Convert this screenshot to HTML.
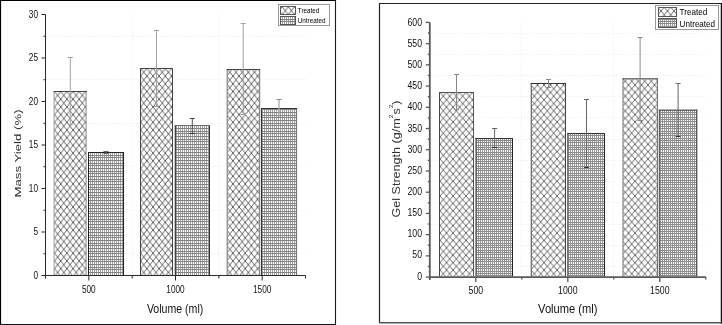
<!DOCTYPE html>
<html><head><meta charset="utf-8"><style>
html,body{margin:0;padding:0;background:#fff;width:722px;height:325px;overflow:hidden;}
svg{display:block;font-family:"Liberation Sans", sans-serif;filter:grayscale(1);}
</style></head><body>
<svg width="722" height="325" viewBox="0 0 722 325" font-family='"Liberation Sans", sans-serif'><defs><pattern id="xh" patternUnits="userSpaceOnUse" width="6.15" height="7.7" patternTransform="translate(54.6 91.5)"><rect width="6.15" height="7.7" fill="#fff"/><path d="M-6.15 -7.7L12.3 15.4M12.3 -7.7L-6.15 15.4" stroke="#2a2a2a" stroke-width="0.75" fill="none"/></pattern><pattern id="xhR" patternUnits="userSpaceOnUse" width="6.5" height="7.4" patternTransform="translate(440 92.4)"><rect width="6.5" height="7.4" fill="#fff"/><path d="M-6.5 -7.4L13 14.8M13 -7.4L-6.5 14.8" stroke="#2a2a2a" stroke-width="0.7" fill="none"/></pattern><pattern id="gr" patternUnits="userSpaceOnUse" width="2" height="8" x="0" y="0"><rect width="2" height="8" fill="#fff"/><rect x="0" y="0" width="1" height="8" fill="#a0a0a0"/><rect x="0" y="0" width="2" height="1" fill="#828282"/><rect x="0" y="3" width="2" height="1" fill="#828282"/><rect x="0" y="5" width="2" height="1" fill="#828282"/></pattern><pattern id="grR" patternUnits="userSpaceOnUse" width="2" height="7" x="0" y="0"><rect width="2" height="7" fill="#fff"/><rect x="0" y="0" width="1" height="7" fill="#999"/><rect x="0" y="0" width="2" height="1" fill="#8a8a8a"/><rect x="0" y="2" width="2" height="1" fill="#8a8a8a"/><rect x="0" y="5" width="2" height="1" fill="#8a8a8a"/></pattern></defs><rect width="722" height="325" fill="#fff"/><line x1="46.5" y1="253.5" x2="305.5" y2="253.5" stroke="#ebebeb" stroke-width="1" stroke-dasharray="1 2"/><line x1="46.5" y1="210.5" x2="305.5" y2="210.5" stroke="#ebebeb" stroke-width="1" stroke-dasharray="1 2"/><line x1="46.5" y1="166.5" x2="305.5" y2="166.5" stroke="#ebebeb" stroke-width="1" stroke-dasharray="1 2"/><line x1="46.5" y1="123.5" x2="305.5" y2="123.5" stroke="#ebebeb" stroke-width="1" stroke-dasharray="1 2"/><line x1="46.5" y1="79.5" x2="305.5" y2="79.5" stroke="#ebebeb" stroke-width="1" stroke-dasharray="1 2"/><line x1="46.5" y1="36.5" x2="305.5" y2="36.5" stroke="#ebebeb" stroke-width="1" stroke-dasharray="1 2"/><line x1="132.5" y1="14.5" x2="132.5" y2="275.5" stroke="#ebebeb" stroke-width="1" stroke-dasharray="1 2"/><line x1="218.5" y1="14.5" x2="218.5" y2="275.5" stroke="#ebebeb" stroke-width="1" stroke-dasharray="1 2"/><rect x="54.1" y="91.5" width="32" height="183.5" fill="url(#xh)"/><line x1="54.1" y1="91" x2="54.1" y2="275" stroke="#aaa" stroke-width="1.2" /><line x1="86.1" y1="91" x2="86.1" y2="275" stroke="#999" stroke-width="1.2" /><line x1="53.5" y1="91.5" x2="86.7" y2="91.5" stroke="#444" stroke-width="1" /><rect x="88.5" y="152.5" width="35" height="122.5" fill="url(#gr)"/><line x1="88.5" y1="152" x2="88.5" y2="275" stroke="#222" stroke-width="1" /><line x1="123.5" y1="152" x2="123.5" y2="275" stroke="#222" stroke-width="1" /><line x1="88" y1="152.5" x2="124" y2="152.5" stroke="#222" stroke-width="1" /><rect x="140.5" y="68.5" width="32" height="206.5" fill="url(#xh)"/><line x1="140.5" y1="68" x2="140.5" y2="275" stroke="#444" stroke-width="1" /><line x1="172.5" y1="68" x2="172.5" y2="275" stroke="#444" stroke-width="1" /><line x1="140" y1="68.5" x2="173" y2="68.5" stroke="#444" stroke-width="1" /><rect x="175.3" y="125.5" width="34.2" height="149.5" fill="url(#gr)"/><line x1="175.3" y1="125" x2="175.3" y2="275" stroke="#333" stroke-width="1.2" /><line x1="209.5" y1="125" x2="209.5" y2="275" stroke="#333" stroke-width="1" /><line x1="174.7" y1="125.5" x2="210" y2="125.5" stroke="#666" stroke-width="1" /><rect x="227.2" y="69.5" width="32.4" height="205.5" fill="url(#xh)"/><line x1="227.2" y1="69" x2="227.2" y2="275" stroke="#888" stroke-width="1.2" /><line x1="259.6" y1="69" x2="259.6" y2="275" stroke="#888" stroke-width="1.2" /><line x1="226.6" y1="69.5" x2="260.2" y2="69.5" stroke="#444" stroke-width="1" /><rect x="261.5" y="108.5" width="35" height="166.5" fill="url(#gr)"/><line x1="261.5" y1="108" x2="261.5" y2="275" stroke="#333" stroke-width="1" /><line x1="296.5" y1="108" x2="296.5" y2="275" stroke="#777" stroke-width="1.2" /><line x1="261" y1="108.5" x2="297.1" y2="108.5" stroke="#333" stroke-width="1" /><line x1="70.3" y1="57.5" x2="70.3" y2="124.5" stroke="#a0a0a0" stroke-width="1" /><line x1="67.8" y1="57.5" x2="72.8" y2="57.5" stroke="#a0a0a0" stroke-width="1" /><line x1="67.8" y1="124.5" x2="72.8" y2="124.5" stroke="#a0a0a0" stroke-width="1" /><line x1="106" y1="151.5" x2="106" y2="153.5" stroke="#777" stroke-width="1" /><line x1="103.5" y1="151.5" x2="108.5" y2="151.5" stroke="#666" stroke-width="1" /><line x1="103.5" y1="153.5" x2="108.5" y2="153.5" stroke="#666" stroke-width="1" /><line x1="156.5" y1="30.5" x2="156.5" y2="106.5" stroke="#a0a0a0" stroke-width="1" /><line x1="154" y1="30.5" x2="159" y2="30.5" stroke="#a0a0a0" stroke-width="1" /><line x1="154" y1="106.5" x2="159" y2="106.5" stroke="#a0a0a0" stroke-width="1" /><line x1="192.3" y1="118.5" x2="192.3" y2="133.5" stroke="#555" stroke-width="1" /><line x1="189.8" y1="118.5" x2="194.8" y2="118.5" stroke="#444" stroke-width="1" /><line x1="189.8" y1="133.5" x2="194.8" y2="133.5" stroke="#333" stroke-width="1" /><line x1="243.2" y1="23.5" x2="243.2" y2="114.5" stroke="#a0a0a0" stroke-width="1" /><line x1="240.7" y1="23.5" x2="245.7" y2="23.5" stroke="#a0a0a0" stroke-width="1" /><line x1="240.7" y1="114.5" x2="245.7" y2="114.5" stroke="#a0a0a0" stroke-width="1" /><line x1="279" y1="99.5" x2="279" y2="117.5" stroke="#aaa" stroke-width="1.3" /><line x1="276.5" y1="99.5" x2="281.5" y2="99.5" stroke="#888" stroke-width="1" /><line x1="276.5" y1="117.5" x2="281.5" y2="117.5" stroke="#777" stroke-width="1" /><line x1="45.5" y1="14.5" x2="45.5" y2="278.5" stroke="#2a2a2a" stroke-width="1" /><line x1="45" y1="275.5" x2="305.5" y2="275.5" stroke="#2a2a2a" stroke-width="1" /><line x1="41.5" y1="275.5" x2="45.5" y2="275.5" stroke="#2a2a2a" stroke-width="1" /><text x="0" y="0" transform="translate(38 278.5) scale(0.75 1)" font-size="11" text-anchor="end" fill="#111">0</text><line x1="43.5" y1="253.75" x2="45.5" y2="253.75" stroke="#2a2a2a" stroke-width="1" /><line x1="41.5" y1="232" x2="45.5" y2="232" stroke="#2a2a2a" stroke-width="1" /><text x="0" y="0" transform="translate(38 235) scale(0.75 1)" font-size="11" text-anchor="end" fill="#111">5</text><line x1="43.5" y1="210.25" x2="45.5" y2="210.25" stroke="#2a2a2a" stroke-width="1" /><line x1="41.5" y1="188.5" x2="45.5" y2="188.5" stroke="#2a2a2a" stroke-width="1" /><text x="0" y="0" transform="translate(38 191.5) scale(0.75 1)" font-size="11" text-anchor="end" fill="#111">10</text><line x1="43.5" y1="166.75" x2="45.5" y2="166.75" stroke="#2a2a2a" stroke-width="1" /><line x1="41.5" y1="145" x2="45.5" y2="145" stroke="#2a2a2a" stroke-width="1" /><text x="0" y="0" transform="translate(38 148) scale(0.75 1)" font-size="11" text-anchor="end" fill="#111">15</text><line x1="43.5" y1="123.25" x2="45.5" y2="123.25" stroke="#2a2a2a" stroke-width="1" /><line x1="41.5" y1="101.5" x2="45.5" y2="101.5" stroke="#2a2a2a" stroke-width="1" /><text x="0" y="0" transform="translate(38 104.5) scale(0.75 1)" font-size="11" text-anchor="end" fill="#111">20</text><line x1="43.5" y1="79.75" x2="45.5" y2="79.75" stroke="#2a2a2a" stroke-width="1" /><line x1="41.5" y1="58" x2="45.5" y2="58" stroke="#2a2a2a" stroke-width="1" /><text x="0" y="0" transform="translate(38 61) scale(0.75 1)" font-size="11" text-anchor="end" fill="#111">25</text><line x1="43.5" y1="36.25" x2="45.5" y2="36.25" stroke="#2a2a2a" stroke-width="1" /><line x1="41.5" y1="14.5" x2="45.5" y2="14.5" stroke="#2a2a2a" stroke-width="1" /><text x="0" y="0" transform="translate(38 17.5) scale(0.75 1)" font-size="11" text-anchor="end" fill="#111">30</text><line x1="132.17" y1="275.5" x2="132.17" y2="278.5" stroke="#2a2a2a" stroke-width="1" /><line x1="218.83" y1="275.5" x2="218.83" y2="278.5" stroke="#2a2a2a" stroke-width="1" /><line x1="305.5" y1="275.5" x2="305.5" y2="278.5" stroke="#2a2a2a" stroke-width="1" /><line x1="88.83" y1="275.5" x2="88.83" y2="280.5" stroke="#2a2a2a" stroke-width="1" /><text x="0" y="0" transform="translate(88.83 293) scale(0.75 1)" font-size="11" text-anchor="middle" fill="#111">500</text><line x1="175.5" y1="275.5" x2="175.5" y2="280.5" stroke="#2a2a2a" stroke-width="1" /><text x="0" y="0" transform="translate(175.5 293) scale(0.75 1)" font-size="11" text-anchor="middle" fill="#111">1000</text><line x1="262.17" y1="275.5" x2="262.17" y2="280.5" stroke="#2a2a2a" stroke-width="1" /><text x="0" y="0" transform="translate(262.17 293) scale(0.75 1)" font-size="11" text-anchor="middle" fill="#111">1500</text><text x="0" y="0" transform="translate(175.1 312.7) scale(0.86 1)" font-size="12.3" text-anchor="middle" fill="#111">Volume (ml)</text><text x="0" y="0" transform="translate(21.1 153.5) rotate(-90) scale(1.35 1)" font-size="9.8" text-anchor="middle" fill="#333">Mass Yield (%)</text><rect x="278.5" y="4.5" width="51" height="21" fill="#fff" stroke="#999" stroke-width="1"/><rect x="280.5" y="6.5" width="15" height="8" fill="url(#xh)" stroke="#555" stroke-width="1"/><text x="0" y="0" transform="translate(297.8 12.7) scale(0.79 1)" font-size="8" text-anchor="start" fill="#000">Treated</text><rect x="280.5" y="16.5" width="15" height="8" fill="url(#gr)" stroke="#555" stroke-width="1"/><text x="0" y="0" transform="translate(297.8 23) scale(0.79 1)" font-size="8" text-anchor="start" fill="#000">Untreated</text><line x1="430.8" y1="266.5" x2="705.8" y2="266.5" stroke="#ebebeb" stroke-width="1" stroke-dasharray="1 2"/><line x1="430.8" y1="245.5" x2="705.8" y2="245.5" stroke="#ebebeb" stroke-width="1" stroke-dasharray="1 2"/><line x1="430.8" y1="224.5" x2="705.8" y2="224.5" stroke="#ebebeb" stroke-width="1" stroke-dasharray="1 2"/><line x1="430.8" y1="202.5" x2="705.8" y2="202.5" stroke="#ebebeb" stroke-width="1" stroke-dasharray="1 2"/><line x1="430.8" y1="181.5" x2="705.8" y2="181.5" stroke="#ebebeb" stroke-width="1" stroke-dasharray="1 2"/><line x1="430.8" y1="160.5" x2="705.8" y2="160.5" stroke="#ebebeb" stroke-width="1" stroke-dasharray="1 2"/><line x1="430.8" y1="139.5" x2="705.8" y2="139.5" stroke="#ebebeb" stroke-width="1" stroke-dasharray="1 2"/><line x1="430.8" y1="117.5" x2="705.8" y2="117.5" stroke="#ebebeb" stroke-width="1" stroke-dasharray="1 2"/><line x1="430.8" y1="96.5" x2="705.8" y2="96.5" stroke="#ebebeb" stroke-width="1" stroke-dasharray="1 2"/><line x1="430.8" y1="75.5" x2="705.8" y2="75.5" stroke="#ebebeb" stroke-width="1" stroke-dasharray="1 2"/><line x1="430.8" y1="54.5" x2="705.8" y2="54.5" stroke="#ebebeb" stroke-width="1" stroke-dasharray="1 2"/><line x1="430.8" y1="33.5" x2="705.8" y2="33.5" stroke="#ebebeb" stroke-width="1" stroke-dasharray="1 2"/><line x1="521.5" y1="22.4" x2="521.5" y2="277.1" stroke="#ebebeb" stroke-width="1" stroke-dasharray="1 2"/><line x1="613.5" y1="22.4" x2="613.5" y2="277.1" stroke="#ebebeb" stroke-width="1" stroke-dasharray="1 2"/><rect x="439.5" y="92.5" width="34" height="184" fill="url(#xhR)"/><line x1="439.5" y1="92" x2="439.5" y2="276.5" stroke="#444" stroke-width="1" /><line x1="473.5" y1="92" x2="473.5" y2="276.5" stroke="#555" stroke-width="1" /><line x1="439" y1="92.5" x2="474" y2="92.5" stroke="#555" stroke-width="1" /><rect x="476" y="138.5" width="36.5" height="138" fill="url(#grR)"/><line x1="476" y1="138" x2="476" y2="276.5" stroke="#333" stroke-width="1" /><line x1="512.5" y1="138" x2="512.5" y2="276.5" stroke="#222" stroke-width="1" /><line x1="475.5" y1="138.5" x2="513" y2="138.5" stroke="#333" stroke-width="1" /><rect x="531.3" y="83.5" width="34.2" height="193" fill="url(#xhR)"/><line x1="531.3" y1="83" x2="531.3" y2="276.5" stroke="#666" stroke-width="1.2" /><line x1="565.5" y1="83" x2="565.5" y2="276.5" stroke="#444" stroke-width="1" /><line x1="530.7" y1="83.5" x2="566" y2="83.5" stroke="#333" stroke-width="1" /><rect x="567.8" y="133.5" width="36.7" height="143" fill="url(#grR)"/><line x1="567.8" y1="133" x2="567.8" y2="276.5" stroke="#444" stroke-width="1" /><line x1="604.5" y1="133" x2="604.5" y2="276.5" stroke="#222" stroke-width="1" /><line x1="567.3" y1="133.5" x2="605" y2="133.5" stroke="#333" stroke-width="1" /><rect x="623" y="78.8" width="34.4" height="197.7" fill="url(#xhR)"/><line x1="623" y1="78.3" x2="623" y2="276.5" stroke="#888" stroke-width="1.2" /><line x1="657.4" y1="78.3" x2="657.4" y2="276.5" stroke="#666" stroke-width="1" /><line x1="622.4" y1="78.8" x2="657.9" y2="78.8" stroke="#444" stroke-width="1" /><rect x="659.3" y="110.1" width="37.5" height="166.4" fill="url(#grR)"/><line x1="659.3" y1="109.6" x2="659.3" y2="276.5" stroke="#444" stroke-width="1" /><line x1="696.8" y1="109.6" x2="696.8" y2="276.5" stroke="#333" stroke-width="1" /><line x1="658.8" y1="110.1" x2="697.3" y2="110.1" stroke="#444" stroke-width="1" /><line x1="456.5" y1="74.5" x2="456.5" y2="109.5" stroke="#888" stroke-width="1" /><line x1="454" y1="74.5" x2="459" y2="74.5" stroke="#888" stroke-width="1" /><line x1="454" y1="109.5" x2="459" y2="109.5" stroke="#888" stroke-width="1" /><line x1="494.6" y1="128.5" x2="494.6" y2="147.5" stroke="#666" stroke-width="1" /><line x1="492.1" y1="128.5" x2="497.1" y2="128.5" stroke="#666" stroke-width="1" /><line x1="492.1" y1="147.5" x2="497.1" y2="147.5" stroke="#333" stroke-width="1" /><line x1="548.5" y1="79.5" x2="548.5" y2="87.5" stroke="#888" stroke-width="1" /><line x1="546" y1="79.5" x2="551" y2="79.5" stroke="#888" stroke-width="1" /><line x1="546" y1="87.5" x2="551" y2="87.5" stroke="#888" stroke-width="1" /><line x1="586.5" y1="99.5" x2="586.5" y2="167.5" stroke="#666" stroke-width="1" /><line x1="584" y1="99.5" x2="589" y2="99.5" stroke="#666" stroke-width="1" /><line x1="584" y1="167.5" x2="589" y2="167.5" stroke="#333" stroke-width="1" /><line x1="640.1" y1="37.5" x2="640.1" y2="120.5" stroke="#888" stroke-width="1" /><line x1="637.6" y1="37.5" x2="642.6" y2="37.5" stroke="#888" stroke-width="1" /><line x1="637.6" y1="120.5" x2="642.6" y2="120.5" stroke="#888" stroke-width="1" /><line x1="678.1" y1="83.5" x2="678.1" y2="136.5" stroke="#666" stroke-width="1" /><line x1="675.6" y1="83.5" x2="680.6" y2="83.5" stroke="#666" stroke-width="1" /><line x1="675.6" y1="136.5" x2="680.6" y2="136.5" stroke="#333" stroke-width="1" /><line x1="429.8" y1="22.4" x2="429.8" y2="280.1" stroke="#5a5a5a" stroke-width="1.8" /><line x1="428.9" y1="277.1" x2="705.8" y2="277.1" stroke="#5a5a5a" stroke-width="1.8" /><line x1="425.8" y1="277.1" x2="429.8" y2="277.1" stroke="#5a5a5a" stroke-width="1.3" /><text x="0" y="0" transform="translate(422 279.61) scale(0.8 1)" font-size="10.9" text-anchor="end" fill="#111">0</text><line x1="427.8" y1="266.49" x2="429.8" y2="266.49" stroke="#5a5a5a" stroke-width="1.3" /><line x1="425.8" y1="255.88" x2="429.8" y2="255.88" stroke="#5a5a5a" stroke-width="1.3" /><text x="0" y="0" transform="translate(422 258.46) scale(0.8 1)" font-size="10.9" text-anchor="end" fill="#111">50</text><line x1="427.8" y1="245.26" x2="429.8" y2="245.26" stroke="#5a5a5a" stroke-width="1.3" /><line x1="425.8" y1="234.65" x2="429.8" y2="234.65" stroke="#5a5a5a" stroke-width="1.3" /><text x="0" y="0" transform="translate(422 237.31) scale(0.8 1)" font-size="10.9" text-anchor="end" fill="#111">100</text><line x1="427.8" y1="224.04" x2="429.8" y2="224.04" stroke="#5a5a5a" stroke-width="1.3" /><line x1="425.8" y1="213.43" x2="429.8" y2="213.43" stroke="#5a5a5a" stroke-width="1.3" /><text x="0" y="0" transform="translate(422 216.16) scale(0.8 1)" font-size="10.9" text-anchor="end" fill="#111">150</text><line x1="427.8" y1="202.81" x2="429.8" y2="202.81" stroke="#5a5a5a" stroke-width="1.3" /><line x1="425.8" y1="192.2" x2="429.8" y2="192.2" stroke="#5a5a5a" stroke-width="1.3" /><text x="0" y="0" transform="translate(422 195.01) scale(0.8 1)" font-size="10.9" text-anchor="end" fill="#111">200</text><line x1="427.8" y1="181.59" x2="429.8" y2="181.59" stroke="#5a5a5a" stroke-width="1.3" /><line x1="425.8" y1="170.98" x2="429.8" y2="170.98" stroke="#5a5a5a" stroke-width="1.3" /><text x="0" y="0" transform="translate(422 173.85) scale(0.8 1)" font-size="10.9" text-anchor="end" fill="#111">250</text><line x1="427.8" y1="160.36" x2="429.8" y2="160.36" stroke="#5a5a5a" stroke-width="1.3" /><line x1="425.8" y1="149.75" x2="429.8" y2="149.75" stroke="#5a5a5a" stroke-width="1.3" /><text x="0" y="0" transform="translate(422 152.7) scale(0.8 1)" font-size="10.9" text-anchor="end" fill="#111">300</text><line x1="427.8" y1="139.14" x2="429.8" y2="139.14" stroke="#5a5a5a" stroke-width="1.3" /><line x1="425.8" y1="128.53" x2="429.8" y2="128.53" stroke="#5a5a5a" stroke-width="1.3" /><text x="0" y="0" transform="translate(422 131.55) scale(0.8 1)" font-size="10.9" text-anchor="end" fill="#111">350</text><line x1="427.8" y1="117.91" x2="429.8" y2="117.91" stroke="#5a5a5a" stroke-width="1.3" /><line x1="425.8" y1="107.3" x2="429.8" y2="107.3" stroke="#5a5a5a" stroke-width="1.3" /><text x="0" y="0" transform="translate(422 110.4) scale(0.8 1)" font-size="10.9" text-anchor="end" fill="#111">400</text><line x1="427.8" y1="96.69" x2="429.8" y2="96.69" stroke="#5a5a5a" stroke-width="1.3" /><line x1="425.8" y1="86.07" x2="429.8" y2="86.07" stroke="#5a5a5a" stroke-width="1.3" /><text x="0" y="0" transform="translate(422 89.25) scale(0.8 1)" font-size="10.9" text-anchor="end" fill="#111">450</text><line x1="427.8" y1="75.46" x2="429.8" y2="75.46" stroke="#5a5a5a" stroke-width="1.3" /><line x1="425.8" y1="64.85" x2="429.8" y2="64.85" stroke="#5a5a5a" stroke-width="1.3" /><text x="0" y="0" transform="translate(422 68.1) scale(0.8 1)" font-size="10.9" text-anchor="end" fill="#111">500</text><line x1="427.8" y1="54.24" x2="429.8" y2="54.24" stroke="#5a5a5a" stroke-width="1.3" /><line x1="425.8" y1="43.63" x2="429.8" y2="43.63" stroke="#5a5a5a" stroke-width="1.3" /><text x="0" y="0" transform="translate(422 46.95) scale(0.8 1)" font-size="10.9" text-anchor="end" fill="#111">550</text><line x1="427.8" y1="33.01" x2="429.8" y2="33.01" stroke="#5a5a5a" stroke-width="1.3" /><line x1="425.8" y1="22.4" x2="429.8" y2="22.4" stroke="#5a5a5a" stroke-width="1.3" /><text x="0" y="0" transform="translate(422 25.8) scale(0.8 1)" font-size="10.9" text-anchor="end" fill="#111">600</text><line x1="521.8" y1="277.1" x2="521.8" y2="279.6" stroke="#5a5a5a" stroke-width="1.3" /><line x1="613.8" y1="277.1" x2="613.8" y2="279.6" stroke="#5a5a5a" stroke-width="1.3" /><line x1="705.8" y1="277.1" x2="705.8" y2="279.6" stroke="#5a5a5a" stroke-width="1.3" /><line x1="475.8" y1="277.1" x2="475.8" y2="282.1" stroke="#5a5a5a" stroke-width="1.3" /><text x="0" y="0" transform="translate(475.8 294) scale(0.8 1)" font-size="10.9" text-anchor="middle" fill="#111">500</text><line x1="567.8" y1="277.1" x2="567.8" y2="282.1" stroke="#5a5a5a" stroke-width="1.3" /><text x="0" y="0" transform="translate(567.8 294) scale(0.8 1)" font-size="10.9" text-anchor="middle" fill="#111">1000</text><line x1="659.8" y1="277.1" x2="659.8" y2="282.1" stroke="#5a5a5a" stroke-width="1.3" /><text x="0" y="0" transform="translate(659.8 294) scale(0.8 1)" font-size="10.9" text-anchor="middle" fill="#111">1500</text><text x="0" y="0" transform="translate(567.8 313.3) scale(0.9 1)" font-size="12.4" text-anchor="middle" fill="#111">Volume (ml)</text><text x="0" y="0" transform="translate(399.5 159) rotate(-90) scale(1.2 1)" font-size="10.5" text-anchor="middle" fill="#333">Gel Strength (g/m<tspan dy="-7" font-size="5.5">2</tspan><tspan dy="7">s</tspan><tspan dy="-7" font-size="5.5">2</tspan><tspan dy="7">)</tspan></text><rect x="655.5" y="5.5" width="63" height="24" fill="#fff" stroke="#999" stroke-width="1"/><rect x="658.5" y="7.5" width="18" height="9" fill="url(#xhR)" stroke="#555" stroke-width="1"/><text x="0" y="0" transform="translate(679.6 15.2) scale(0.9 1)" font-size="9" text-anchor="start" fill="#000">Treated</text><rect x="658.5" y="18.5" width="18" height="9" fill="url(#grR)" stroke="#555" stroke-width="1"/><text x="0" y="0" transform="translate(679.6 26.7) scale(0.9 1)" font-size="9" text-anchor="start" fill="#000">Untreated</text><line x1="0" y1="0.5" x2="336" y2="0.5" stroke="#000" stroke-width="1.2" /><line x1="0.5" y1="0" x2="0.5" y2="325" stroke="#000" stroke-width="1.2" /><line x1="335.5" y1="0" x2="335.5" y2="325" stroke="#1a1a1a" stroke-width="1.1" /><line x1="0" y1="324.5" x2="336" y2="324.5" stroke="#111" stroke-width="1.1" /><line x1="379" y1="3.5" x2="722" y2="3.5" stroke="#222" stroke-width="1.2" /><line x1="379.5" y1="3" x2="379.5" y2="323" stroke="#222" stroke-width="1.2" /><line x1="721.4" y1="3" x2="721.4" y2="324" stroke="#111" stroke-width="1.3" /><line x1="379" y1="322.8" x2="722" y2="322.8" stroke="#555" stroke-width="1.6" /></svg>
</body></html>
